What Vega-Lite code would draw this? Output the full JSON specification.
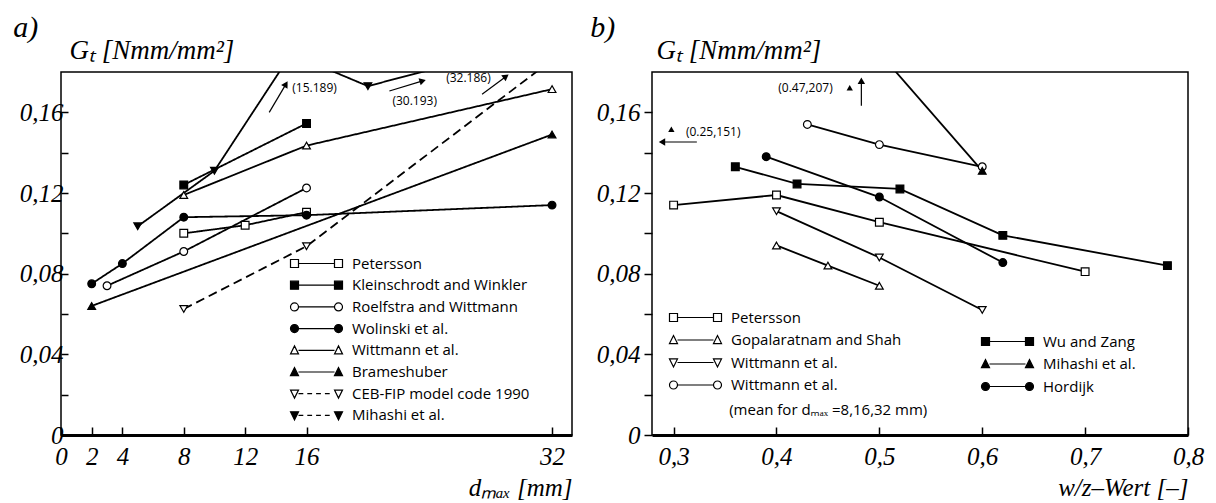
{
  "$schema": "https://vega.github.io/schema/vega-lite/v6.json",
  "padding": {"left": 12, "top": 12, "right": 5, "bottom": 5},
  "background": "white",
  "spacing": 80,
  "bounds": "flush",
  "datasets": {
    "left": [
      {"series": "Petersson", "x": 8, "y": 0.1},
      {"series": "Petersson", "x": 12, "y": 0.104},
      {"series": "Petersson", "x": 16, "y": 0.1105},
      {"series": "Kleinschrodt and Winkler", "x": 8, "y": 0.124},
      {"series": "Kleinschrodt and Winkler", "x": 16, "y": 0.1545},
      {"series": "Roelfstra and Wittmann", "x": 3, "y": 0.074},
      {"series": "Roelfstra and Wittmann", "x": 8, "y": 0.091},
      {"series": "Roelfstra and Wittmann", "x": 16, "y": 0.1225},
      {"series": "Wolinski et al.", "x": 2, "y": 0.075},
      {"series": "Wolinski et al.", "x": 4, "y": 0.085},
      {"series": "Wolinski et al.", "x": 8, "y": 0.108},
      {"series": "Wolinski et al.", "x": 16, "y": 0.109},
      {"series": "Wolinski et al.", "x": 32, "y": 0.114},
      {"series": "Wittmann et al.", "x": 8, "y": 0.119},
      {"series": "Wittmann et al.", "x": 16, "y": 0.1435},
      {"series": "Wittmann et al.", "x": 32, "y": 0.1715},
      {"series": "Brameshuber", "x": 2, "y": 0.064},
      {"series": "Brameshuber", "x": 32, "y": 0.149},
      {"series": "CEB-FIP model code 1990", "x": 8, "y": 0.0625},
      {"series": "CEB-FIP model code 1990", "x": 16, "y": 0.0936},
      {"series": "CEB-FIP model code 1990", "x": 32, "y": 0.186},
      {"series": "Mihashi et al.", "x": 5, "y": 0.1035},
      {"series": "Mihashi et al.", "x": 10, "y": 0.131},
      {"series": "Mihashi et al.", "x": 15, "y": 0.189},
      {"series": "Mihashi et al.", "x": 20, "y": 0.173},
      {"series": "Mihashi et al.", "x": 30, "y": 0.193}
    ],
    "right": [
      {"series": "Petersson", "x": 0.3, "y": 0.114},
      {"series": "Petersson", "x": 0.4, "y": 0.119},
      {"series": "Petersson", "x": 0.5, "y": 0.1055},
      {"series": "Petersson", "x": 0.7, "y": 0.081},
      {"series": "Gopalaratnam and Shah", "x": 0.4, "y": 0.094},
      {"series": "Gopalaratnam and Shah", "x": 0.45, "y": 0.084},
      {"series": "Gopalaratnam and Shah", "x": 0.5, "y": 0.074},
      {"series": "Wittmann et al.|1", "x": 0.4, "y": 0.111},
      {"series": "Wittmann et al.|1", "x": 0.5, "y": 0.088},
      {"series": "Wittmann et al.|1", "x": 0.6, "y": 0.062},
      {"series": "Wittmann et al.|2", "x": 0.43, "y": 0.154},
      {"series": "Wittmann et al.|2", "x": 0.5, "y": 0.144},
      {"series": "Wittmann et al.|2", "x": 0.6, "y": 0.133},
      {"series": "Wu and Zang", "x": 0.36, "y": 0.133},
      {"series": "Wu and Zang", "x": 0.42, "y": 0.1245},
      {"series": "Wu and Zang", "x": 0.52, "y": 0.122},
      {"series": "Wu and Zang", "x": 0.62, "y": 0.099},
      {"series": "Wu and Zang", "x": 0.78, "y": 0.084},
      {"series": "Mihashi et al.", "x": 0.47, "y": 0.207},
      {"series": "Mihashi et al.", "x": 0.6, "y": 0.131},
      {"series": "Hordijk", "x": 0.39, "y": 0.138},
      {"series": "Hordijk", "x": 0.5, "y": 0.118},
      {"series": "Hordijk", "x": 0.62, "y": 0.0855}
    ],
    "leftArrows": [
      {"x": 13.57, "y": 0.16, "x2": 14.66, "y2": 0.174},
      {"x": 21.4, "y": 0.1706, "x2": 23.57, "y2": 0.1756},
      {"x": 27.44, "y": 0.169, "x2": 29.0, "y2": 0.1778}
    ],
    "leftNotes": [
      {"label": "(15.189)", "x": 15.07, "y": 0.172},
      {"label": "(30.193)", "x": 21.6, "y": 0.1655},
      {"label": "(32.186)", "x": 25.1, "y": 0.1768}
    ],
    "rightArrows": [
      {"x": 0.3226, "y": 0.1453, "x2": 0.2887, "y2": 0.1453},
      {"x": 0.4825, "y": 0.1633, "x2": 0.4825, "y2": 0.1757}
    ],
    "rightNotes": [
      {"label": "(0.25,151)", "x": 0.312, "y": 0.1503},
      {"label": "(0.47,207)", "x": 0.4017, "y": 0.1721},
      {"label": "(mean for dₘₐₓ =8,16,32 mm)", "x": 0.354, "y": 0.0124}
    ],
    "rightMarks": [
      {"x": 0.2978, "y": 0.1516},
      {"x": 0.4712, "y": 0.1722}
    ]
  },
  "hconcat": [
    {
      "width": 511,
      "height": 363,
      "title": {"text": "a)", "anchor": "start", "frame": "bounds", "font": "Liberation Serif", "fontStyle": "italic", "fontWeight": "normal", "fontSize": 30, "color": "black", "baseline": "alphabetic", "offset": -31, "dx": -6},
      "resolve": {"scale": {"shape": "independent", "fill": "independent"}, "legend": {"shape": "independent", "fill": "independent"}},
      "layer": [
        {
          "data": {"name": "left"},
          "mark": {"type": "line", "stroke": "black", "strokeWidth": 1.8, "clip": true},
          "encoding": {
            "x": {"field": "x", "type": "quantitative", "scale": {"domain": [0, 33.3], "nice": false, "zero": false},
              "axis": {"values": [0, 2, 4, 8, 12, 16, 32], "tickSize": -8, "domainWidth": 3, "labelPadding": 17, "labelOverlap": false, "labelFlush": false, "title": "dₘₐₓ [mm]", "titleAnchor": "end", "titlePadding": 6}},
            "y": {"field": "y", "type": "quantitative", "scale": {"domain": [0, 0.18], "nice": false},
              "axis": {"values": [0, 0.02, 0.04, 0.06, 0.08, 0.1, 0.12, 0.14, 0.16], "tickSize": -7, "domain": false, "labelPadding": 5,
                "labelExpr": "datum.value == 0 ? '0' : (round(datum.value*100) % 4 == 0 ? replace(format(datum.value, '.2f'), '.', ',') : '')",
                "title": "Gₜ [Nmm/mm²]", "titleFontSize": 27, "titleAngle": 0, "titleAlign": "left", "titleBaseline": "alphabetic", "titleX": 8, "titleY": -14}},
            "strokeDash": {"field": "series", "type": "nominal", "legend": null,
              "scale": {"domain": ["Petersson", "Kleinschrodt and Winkler", "Roelfstra and Wittmann", "Wolinski et al.", "Wittmann et al.", "Brameshuber", "CEB-FIP model code 1990", "Mihashi et al."],
                "range": [[1, 0], [1, 0], [1, 0], [1, 0], [1, 0], [1, 0], [9, 5], [1, 0]]}}
          }
        },
        {
          "data": {"name": "left"},
          "transform": [{"filter": "indexof(['Petersson','Roelfstra and Wittmann','Wittmann et al.','CEB-FIP model code 1990'], datum.series) >= 0"}],
          "mark": {"type": "point", "filled": true, "fill": "white", "stroke": "black", "strokeWidth": 1.2, "size": 60, "opacity": 1, "clip": true},
          "encoding": {
            "x": {"field": "x", "type": "quantitative"},
            "y": {"field": "y", "type": "quantitative"},
            "shape": {"field": "series", "type": "nominal", "legend": null,
              "scale": {"domain": ["Petersson", "Roelfstra and Wittmann", "Wittmann et al.", "CEB-FIP model code 1990"],
                "range": ["square", "circle", "triangle-up", "triangle-down"]}}
          }
        },
        {
          "data": {"name": "left"},
          "transform": [{"filter": "indexof(['Kleinschrodt and Winkler','Wolinski et al.','Brameshuber','Mihashi et al.'], datum.series) >= 0"}],
          "mark": {"type": "point", "filled": true, "fill": "black", "stroke": "black", "strokeWidth": 1.2, "size": 60, "opacity": 1, "clip": true},
          "encoding": {
            "x": {"field": "x", "type": "quantitative"},
            "y": {"field": "y", "type": "quantitative"},
            "shape": {"field": "series", "type": "nominal", "legend": null,
              "scale": {"domain": ["Kleinschrodt and Winkler", "Wolinski et al.", "Brameshuber", "Mihashi et al."],
                "range": ["square", "circle", "triangle-up", "triangle-down"]}}
          }
        },
        {
          "data": {"name": "left"},
          "transform": [{"filter": "datum.x < -100"}],
          "mark": {"type": "point", "filled": false, "stroke": "black", "strokeWidth": 1.2, "size": 64, "opacity": 1},
          "encoding": {
            "x": {"field": "x", "type": "quantitative"},
            "y": {"field": "y", "type": "quantitative"},
            "shape": {"field": "series", "type": "nominal",
              "scale": {"domain": ["Petersson", "Kleinschrodt and Winkler", "Roelfstra and Wittmann", "Wolinski et al.", "Wittmann et al.", "Brameshuber", "CEB-FIP model code 1990", "Mihashi et al."],
                "range": [
                  "M-12,-1H-10V1H-12Z M-10,0H-1 M-1,-1H1V1H-1Z",
                  "M-12,-1H-10V1H-12Z M-10,0H-1 M-1,-1H1V1H-1Z",
                  "M-12,0A1,1,0,1,1,-10,0A1,1,0,1,1,-12,0Z M-10,0H-1 M-1,0A1,1,0,1,1,1,0A1,1,0,1,1,-1,0Z",
                  "M-12,0A1,1,0,1,1,-10,0A1,1,0,1,1,-12,0Z M-10,0H-1 M-1,0A1,1,0,1,1,1,0A1,1,0,1,1,-1,0Z",
                  "M-12,0.9L-11,-1.1L-10,0.9Z M-10,0H-1 M-1,0.9L0,-1.1L1,0.9Z",
                  "M-12,0.9L-11,-1.1L-10,0.9Z M-10,0H-1 M-1,0.9L0,-1.1L1,0.9Z",
                  "M-12,-0.9L-11,1.1L-10,-0.9Z M-10,0H-8.8 M-7.8,0H-6.6 M-5.6,0H-4.4 M-3.4,0H-2.2 M-1,-0.9L0,1.1L1,-0.9Z",
                  "M-12,-0.9L-11,1.1L-10,-0.9Z M-10,0H-8.8 M-7.8,0H-6.6 M-5.6,0H-4.4 M-3.4,0H-2.2 M-1,-0.9L0,1.1L1,-0.9Z"
                ]},
              "legend": {"orient": "none", "legendX": 270, "legendY": 184, "title": null, "padding": 0,
                "labelFont": "Open Sans", "labelFontSize": 15, "labelColor": "black", "labelOffset": 6, "labelLimit": 400,
                "symbolSize": 64, "symbolStrokeWidth": 1.2, "rowPadding": 5.7,
                "encode": {"symbols": {"stroke": {"value": "black"}, "strokeWidth": {"value": 1.2}}}}},
            "fill": {"field": "series", "type": "nominal",
              "scale": {"domain": ["Petersson", "Kleinschrodt and Winkler", "Roelfstra and Wittmann", "Wolinski et al.", "Wittmann et al.", "Brameshuber", "CEB-FIP model code 1990", "Mihashi et al."],
                "range": ["white", "black", "white", "black", "white", "black", "white", "black"]}}
          }
        },
        {
          "data": {"name": "leftArrows"},
          "mark": {"type": "rule", "stroke": "black", "strokeWidth": 1.2},
          "encoding": {
            "x": {"field": "x", "type": "quantitative"},
            "y": {"field": "y", "type": "quantitative"},
            "x2": {"field": "x2"},
            "y2": {"field": "y2"}
          }
        },
        {
          "data": {"name": "leftArrows"},
          "transform": [{"calculate": "atan2((datum.x2 - datum.x) * 15.35, (datum.y2 - datum.y) * 2017) * 180 / PI", "as": "angle"}],
          "mark": {"type": "point", "shape": "triangle-up", "filled": true, "color": "black", "opacity": 1, "size": 55},
          "encoding": {
            "x": {"field": "x2", "type": "quantitative"},
            "y": {"field": "y2", "type": "quantitative"},
            "angle": {"field": "angle", "type": "quantitative", "scale": null}
          }
        },
        {
          "data": {"name": "leftNotes"},
          "mark": {"type": "text", "font": "Open Sans", "fontSize": 12, "align": "left", "baseline": "middle", "color": "black"},
          "encoding": {
            "x": {"field": "x", "type": "quantitative"},
            "y": {"field": "y", "type": "quantitative"},
            "text": {"field": "label"}
          }
        }
      ]
    },
    {
      "width": 536,
      "height": 363,
      "title": {"text": "b)", "anchor": "start", "frame": "bounds", "font": "Liberation Serif", "fontStyle": "italic", "fontWeight": "normal", "fontSize": 30, "color": "black", "baseline": "alphabetic", "offset": -31, "dx": -6},
      "resolve": {"scale": {"shape": "independent"}, "legend": {"shape": "independent"}},
      "layer": [
        {
          "data": {"name": "right"},
          "mark": {"type": "line", "stroke": "black", "strokeWidth": 1.8, "clip": true},
          "encoding": {
            "x": {"field": "x", "type": "quantitative", "scale": {"domain": [0.279, 0.8], "nice": false, "zero": false},
              "axis": {"values": [0.3, 0.4, 0.5, 0.6, 0.7, 0.8], "tickSize": -8, "domainWidth": 3, "labelPadding": 17, "labelOverlap": false, "labelFlush": false,
                "labelExpr": "replace(format(datum.value, '.1f'), '.', ',')", "title": "w/z–Wert [–]", "titleAnchor": "end", "titlePadding": 6}},
            "y": {"field": "y", "type": "quantitative", "scale": {"domain": [0, 0.18], "nice": false},
              "axis": {"values": [0, 0.02, 0.04, 0.06, 0.08, 0.1, 0.12, 0.14, 0.16], "tickSize": 8, "domain": false, "labelPadding": 4,
                "labelExpr": "datum.value == 0 ? '0' : (round(datum.value*100) % 4 == 0 ? replace(format(datum.value, '.2f'), '.', ',') : '')",
                "title": "Gₜ [Nmm/mm²]", "titleFontSize": 27, "titleAngle": 0, "titleAlign": "left", "titleBaseline": "alphabetic", "titleX": 4, "titleY": -14}},
            "detail": {"field": "series", "type": "nominal"}
          }
        },
        {
          "data": {"name": "right"},
          "transform": [{"filter": "indexof(['Petersson','Gopalaratnam and Shah','Wittmann et al.|1','Wittmann et al.|2'], datum.series) >= 0"}],
          "mark": {"type": "point", "filled": true, "fill": "white", "stroke": "black", "strokeWidth": 1.2, "size": 60, "opacity": 1, "clip": true},
          "encoding": {
            "x": {"field": "x", "type": "quantitative"},
            "y": {"field": "y", "type": "quantitative"},
            "shape": {"field": "series", "type": "nominal", "legend": null,
              "scale": {"domain": ["Petersson", "Gopalaratnam and Shah", "Wittmann et al.|1", "Wittmann et al.|2"], "range": ["square", "triangle-up", "triangle-down", "circle"]}}
          }
        },
        {
          "data": {"name": "right"},
          "transform": [{"filter": "indexof(['Wu and Zang','Mihashi et al.','Hordijk'], datum.series) >= 0"}],
          "mark": {"type": "point", "filled": true, "fill": "black", "stroke": "black", "strokeWidth": 1.2, "size": 60, "opacity": 1, "clip": true},
          "encoding": {
            "x": {"field": "x", "type": "quantitative"},
            "y": {"field": "y", "type": "quantitative"},
            "shape": {"field": "series", "type": "nominal", "legend": null,
              "scale": {"domain": ["Wu and Zang", "Mihashi et al.", "Hordijk"], "range": ["square", "triangle-up", "circle"]}}
          }
        },
        {
          "data": {"name": "right"},
          "transform": [{"filter": "datum.x < -100"}],
          "mark": {"type": "point", "filled": false, "fill": "white", "stroke": "black", "strokeWidth": 1.2, "size": 64, "opacity": 1},
          "encoding": {
            "x": {"field": "x", "type": "quantitative"},
            "y": {"field": "y", "type": "quantitative"},
            "shape": {"field": "series", "type": "nominal",
              "scale": {"domain": ["Petersson", "Gopalaratnam and Shah", "Wittmann et al.|1", "Wittmann et al.|2"],
                "range": [
                  "M-12,-1H-10V1H-12Z M-10,0H-1 M-1,-1H1V1H-1Z",
                  "M-12,0.9L-11,-1.1L-10,0.9Z M-10,0H-1 M-1,0.9L0,-1.1L1,0.9Z",
                  "M-12,-0.9L-11,1.1L-10,-0.9Z M-10,0H-1 M-1,-0.9L0,1.1L1,-0.9Z",
                  "M-12,0A1,1,0,1,1,-10,0A1,1,0,1,1,-12,0Z M-10,0H-1 M-1,0A1,1,0,1,1,1,0A1,1,0,1,1,-1,0Z"
                ]},
              "legend": {"orient": "none", "legendX": 58, "legendY": 238, "title": null, "padding": 0,
                "labelFont": "Open Sans", "labelFontSize": 15, "labelColor": "black", "labelOffset": 6, "labelLimit": 400,
                "labelExpr": "split(datum.label, '|')[0]",
                "symbolSize": 64, "symbolStrokeWidth": 1.2, "rowPadding": 6.5,
                "encode": {"symbols": {"stroke": {"value": "black"}, "strokeWidth": {"value": 1.2}, "fill": {"value": "white"}}}}}
          }
        },
        {
          "data": {"name": "right"},
          "transform": [{"filter": "datum.x < -100"}],
          "mark": {"type": "point", "filled": false, "fill": "black", "stroke": "black", "strokeWidth": 1.2, "size": 64, "opacity": 1},
          "encoding": {
            "x": {"field": "x", "type": "quantitative"},
            "y": {"field": "y", "type": "quantitative"},
            "shape": {"field": "series", "type": "nominal",
              "scale": {"domain": ["Wu and Zang", "Mihashi et al.", "Hordijk"],
                "range": [
                  "M-12,-1H-10V1H-12Z M-10,0H-1 M-1,-1H1V1H-1Z",
                  "M-12,0.9L-11,-1.1L-10,0.9Z M-10,0H-1 M-1,0.9L0,-1.1L1,0.9Z",
                  "M-12,0A1,1,0,1,1,-10,0A1,1,0,1,1,-12,0Z M-10,0H-1 M-1,0A1,1,0,1,1,1,0A1,1,0,1,1,-1,0Z"
                ]},
              "legend": {"orient": "none", "legendX": 370, "legendY": 262, "title": null, "padding": 0,
                "labelFont": "Open Sans", "labelFontSize": 15, "labelColor": "black", "labelOffset": 6, "labelLimit": 400,
                "symbolSize": 64, "symbolStrokeWidth": 1.2, "rowPadding": 6.5,
                "encode": {"symbols": {"stroke": {"value": "black"}, "strokeWidth": {"value": 1.2}, "fill": {"value": "black"}}}}}
          }
        },
        {
          "data": {"name": "rightArrows"},
          "mark": {"type": "rule", "stroke": "black", "strokeWidth": 1.2},
          "encoding": {
            "x": {"field": "x", "type": "quantitative"},
            "y": {"field": "y", "type": "quantitative"},
            "x2": {"field": "x2"},
            "y2": {"field": "y2"}
          }
        },
        {
          "data": {"name": "rightArrows"},
          "transform": [{"calculate": "atan2((datum.x2 - datum.x) * 1028.8, (datum.y2 - datum.y) * 2017) * 180 / PI", "as": "angle"}],
          "mark": {"type": "point", "shape": "triangle-up", "filled": true, "color": "black", "opacity": 1, "size": 55},
          "encoding": {
            "x": {"field": "x2", "type": "quantitative"},
            "y": {"field": "y2", "type": "quantitative"},
            "angle": {"field": "angle", "type": "quantitative", "scale": null}
          }
        },
        {
          "data": {"name": "rightMarks"},
          "mark": {"type": "point", "shape": "triangle-up", "filled": true, "color": "black", "opacity": 1, "size": 40},
          "encoding": {
            "x": {"field": "x", "type": "quantitative"},
            "y": {"field": "y", "type": "quantitative"}
          }
        },
        {
          "data": {"name": "rightNotes"},
          "transform": [{"filter": "datum.y > 0.1"}],
          "mark": {"type": "text", "font": "Open Sans", "fontSize": 12, "align": "left", "baseline": "middle", "color": "black"},
          "encoding": {
            "x": {"field": "x", "type": "quantitative"},
            "y": {"field": "y", "type": "quantitative"},
            "text": {"field": "label"}
          }
        },
        {
          "data": {"name": "rightNotes"},
          "transform": [{"filter": "datum.y < 0.1"}],
          "mark": {"type": "text", "font": "Open Sans", "fontSize": 15, "align": "left", "baseline": "middle", "color": "black"},
          "encoding": {
            "x": {"field": "x", "type": "quantitative"},
            "y": {"field": "y", "type": "quantitative"},
            "text": {"field": "label"}
          }
        }
      ]
    }
  ],
  "config": {
    "view": {"stroke": "black", "strokeWidth": 1.5},
    "axis": {
      "labelFont": "Liberation Serif", "labelFontStyle": "italic", "labelFontSize": 25, "labelColor": "black",
      "tickColor": "black", "tickWidth": 1.5, "domainColor": "black", "grid": false,
      "titleFont": "Liberation Serif", "titleFontStyle": "italic", "titleFontWeight": "normal", "titleFontSize": 25, "titleColor": "black"
    }
  }
}
